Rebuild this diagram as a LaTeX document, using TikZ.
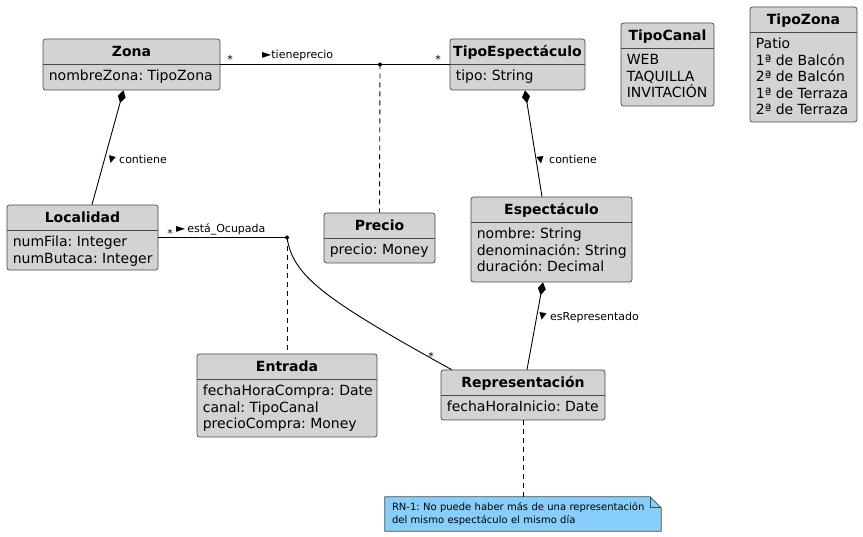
\documentclass[tikz,border=0pt]{standalone}
\usepackage{fontspec}
\setmainfont{DejaVu Sans}
\usetikzlibrary{arrows.meta,backgrounds}
\frenchspacing
\definecolor{clsfill}{HTML}{D3D3D3}
\definecolor{clsline}{HTML}{4A4A4A}
\definecolor{notefill}{HTML}{87CEFA}
\tikzset{
  cls/.style={draw=clsline, fill=clsfill, rounded corners=2.5pt, line width=0.7pt, inner sep=0pt},
  divline/.style={draw=clsline, line width=0.7pt},
  ttl/.style={font=\fontsize{14}{16}\selectfont\bfseries, inner sep=0pt, anchor=base},
  att/.style={font=\fontsize{14}{16.5}\selectfont, align=left, inner sep=0pt, anchor=north west},
  lbl/.style={font=\fontsize{11}{13}\selectfont, inner sep=0pt},
  tri/.style={font=\fontsize{9.5}{9.5}\selectfont, inner sep=0pt},
  conn/.style={line width=0.9pt},
  dsh/.style={line width=0.9pt, dash pattern=on 5pt off 4pt},
  comp/.style={line width=0.9pt, {Diamond[length=13pt,width=8pt]}-},
  notebox/.style={draw=clsline, fill=notefill, line width=0.7pt},
}

\begin{document}
\begin{tikzpicture}[x=1pt,y=-1pt]
  \useasboundingbox (0,0) rectangle (863,537);

  \node[cls, minimum width=177pt, minimum height=51pt] (zona) at (131.5,64.5) {};
  \node[cls, minimum width=135pt, minimum height=51pt] (tipoesp) at (517.5,64.5) {};
  \node[cls, minimum width=93pt, minimum height=83pt] (tipocanal) at (667.5,64.5) {};
  \node[cls, minimum width=107pt, minimum height=115pt] (tipozona) at (803.5,64.5) {};
  \node[cls, minimum width=151pt, minimum height=65pt] (localidad) at (82.5,237.5) {};
  \node[cls, minimum width=111pt, minimum height=50pt] (precio) at (379.5,238) {};
  \node[cls, minimum width=161pt, minimum height=85pt] (espectaculo) at (551.5,239.5) {};
  \node[cls, minimum width=180pt, minimum height=83pt] (entrada) at (287,395.5) {};
  \node[cls, minimum width=164pt, minimum height=50pt] (representacion) at (523,395) {};

  \foreach \c in {zona,tipoesp,tipocanal,tipozona,localidad,precio,espectaculo,entrada,representacion}
    \draw[divline] ([yshift=-26pt]\c.north west) -- ([yshift=-26pt]\c.north east);

  \node[ttl] (zona-t) at ([yshift=-18pt]zona.north) {Zona};
  \node[att] (zona-a) at ([xshift=6pt,yshift=-31.5pt]zona.north west) {nombreZona: TipoZona};
  \node[ttl] (tipoesp-t) at ([yshift=-18pt]tipoesp.north) {TipoEspectáculo};
  \node[att] (tipoesp-a) at ([xshift=6pt,yshift=-31.5pt]tipoesp.north west) {tipo: String};
  \node[ttl] (tipocanal-t) at ([yshift=-18pt]tipocanal.north) {TipoCanal};
  \node[att] (tipocanal-a) at ([xshift=6pt,yshift=-31.5pt]tipocanal.north west) {WEB\\TAQUILLA\\INVITACIÓN};
  \node[ttl] (tipozona-t) at ([yshift=-18pt]tipozona.north) {TipoZona};
  \node[att] (tipozona-a) at ([xshift=6pt,yshift=-31.5pt]tipozona.north west) {Patio\\1ª de Balcón\\2ª de Balcón\\1ª de Terraza\\2ª de Terraza};
  \node[ttl] (localidad-t) at ([yshift=-18pt]localidad.north) {Localidad};
  \node[att] (localidad-a) at ([xshift=6pt,yshift=-31.5pt]localidad.north west) {numFila: Integer\\numButaca: Integer};
  \node[ttl] (precio-t) at ([yshift=-18pt]precio.north) {Precio};
  \node[att] (precio-a) at ([xshift=6pt,yshift=-31.5pt]precio.north west) {precio: Money};
  \node[ttl] (espectaculo-t) at ([yshift=-18pt]espectaculo.north) {Espectáculo};
  \node[att] (espectaculo-a) at ([xshift=6pt,yshift=-31.5pt]espectaculo.north west) {nombre: String\\denominación: String\\duración: Decimal};
  \node[ttl] (entrada-t) at ([yshift=-18pt]entrada.north) {Entrada};
  \node[att] (entrada-a) at ([xshift=6pt,yshift=-31.5pt]entrada.north west) {fechaHoraCompra: Date\\canal: TipoCanal\\precioCompra: Money};
  \node[ttl] (representacion-t) at ([yshift=-18pt]representacion.north) {Representación};
  \node[att] (representacion-a) at ([xshift=6pt,yshift=-31.5pt]representacion.north west) {fechaHoraInicio: Date};

  \node[font=\fontsize{10}{13}\selectfont, text width=262pt, inner xsep=7pt, inner ysep=0pt, align=left, minimum height=34pt] (note) at (523,514) {RN-1: No puede haber más de una representación\\del mismo espectáculo el mismo día};
  \begin{scope}[on background layer]
    \draw[notebox] (note.south west) -- (note.north west) -- ([xshift=-11pt]note.north east) -- ([yshift=-11pt]note.north east) -- (note.south east) -- cycle;
    \draw[notebox, fill=none] ([xshift=-11pt]note.north east) |- ([yshift=-11pt]note.north east);
  \end{scope}

  \coordinate (tprecio) at (380,64.5);
  \coordinate (ocup) at (287,237.5);

  \draw[conn] (zona.east) -- (tipoesp.west);
  \fill (tprecio) circle (2pt);
  \draw[dsh] (tprecio) -- (precio.north);
  \node[lbl] (m1) at (230,59) {*};
  \node[lbl] (m2) at (438,59) {*};
  \node[lbl, anchor=base west] (lbl-tp) at (262,58.5) {{\fontsize{12}{12}\selectfont►}tieneprecio};

  \draw[conn] (localidad.east) -- (ocup);
  \fill (ocup) circle (2pt);
  \draw[dsh] (ocup) -- (entrada.north);
  \draw[conn] (ocup) .. controls (293,275) and (320,297) .. ([xshift=11pt]representacion.north west);
  \node[lbl] (m3) at (170,233) {*};
  \node[lbl] (m4) at (431,356) {*};
  \node[lbl, anchor=base west] (lbl-oc) at (176,232.5) {{\fontsize{12}{12}\selectfont►}\,está\_Ocupada};

  \draw[comp] ([xshift=-8pt]zona.south) -- ([xshift=9.5pt]localidad.north);
  \node[tri, rotate=-15] (tri1) at (111.5,160.5) {▼};
  \node[lbl, anchor=base west] (lbl-c1) at (119,164) {contiene};

  \draw[comp] ([xshift=7.5pt]tipoesp.south) -- ([xshift=-9.5pt]espectaculo.north);
  \node[tri, rotate=9] (tri2) at (540.5,160.5) {▼};
  \node[lbl, anchor=base west] (lbl-c2) at (549,164) {contiene};

  \draw[comp] ([xshift=-8.5pt]espectaculo.south) -- ([xshift=4pt]representacion.north);
  \node[tri, rotate=-10] (tri3) at (542.5,317) {▼};
  \node[lbl, anchor=base west] (lbl-er) at (550,320.5) {esRepresentado};

  \draw[dsh] (representacion.south) -- (note.north);
\end{tikzpicture}
\end{document}
